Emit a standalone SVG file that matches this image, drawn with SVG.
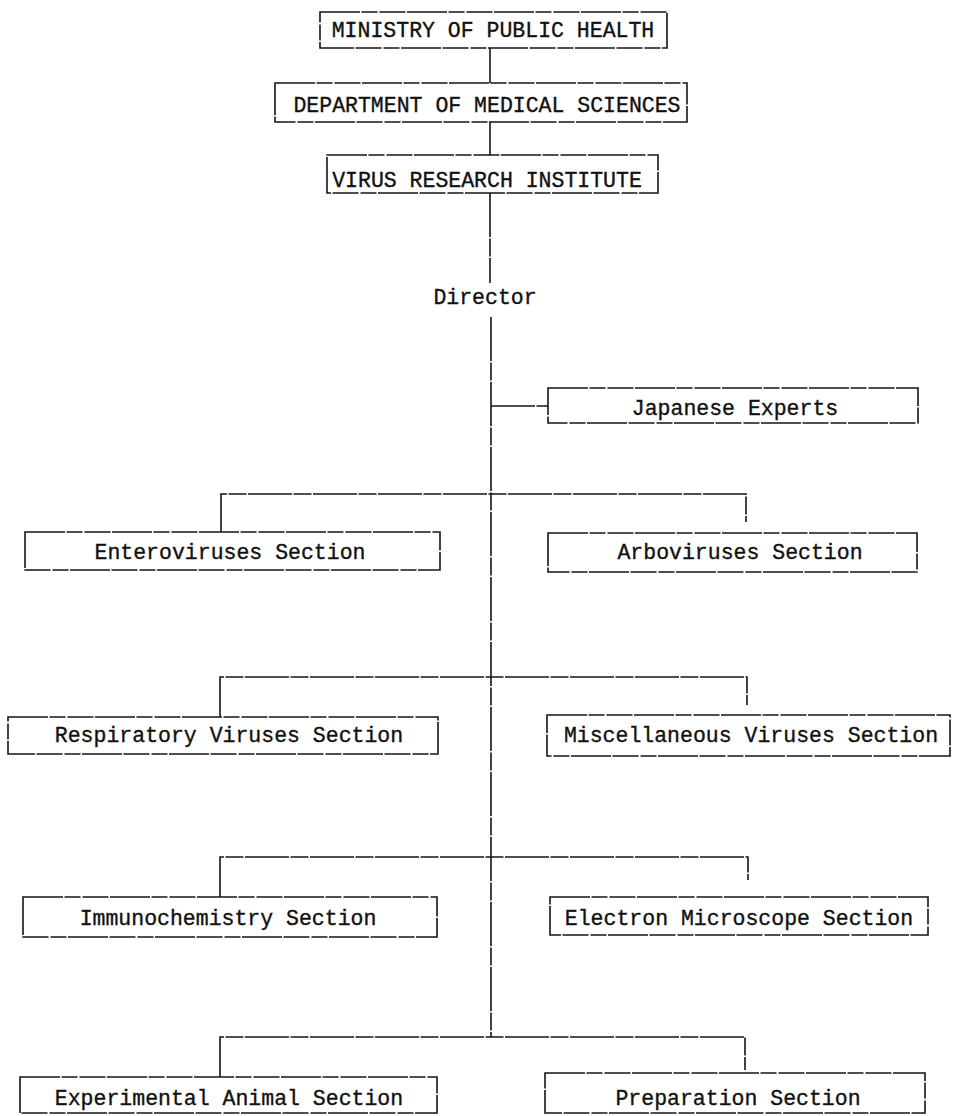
<svg xmlns="http://www.w3.org/2000/svg" width="958" height="1116" viewBox="0 0 958 1116">
<style>
.box{fill:none;stroke:#151515;stroke-width:1.6;stroke-dasharray:40 1.5 16 2 26 1.5}
.ln{fill:none;stroke:#151515;stroke-width:1.6;stroke-dasharray:44 1.5 18 1.5}
text{font-family:"Liberation Mono","Courier New",monospace;font-size:21.5px;fill:#111;stroke:#111;stroke-width:0.35;text-anchor:middle}
</style>
<rect width="958" height="1116" fill="#fff"/>
<g id="connectors">
<path class="ln" d="M490,48 V83"/>
<path class="ln" d="M490,122 V155"/>
<path class="ln" d="M490,193 V283"/>
<path class="ln" d="M491,317 V1037"/>
<path class="ln" d="M491,406 H548"/>
<path class="ln" d="M221,532 V494 H746 V522"/>
<path class="ln" d="M220,717 V677 H747 V705"/>
<path class="ln" d="M220,897 V857 H748 V880"/>
<path class="ln" d="M220,1077 V1037 H745 V1070"/>
</g>
<g id="ministry"><rect class="box" x="320" y="12" width="347" height="36"/><text x="493" y="37">MINISTRY OF PUBLIC HEALTH</text></g>
<g id="department"><rect class="box" x="275" y="83" width="412" height="39"/><text x="487" y="112">DEPARTMENT OF MEDICAL SCIENCES</text></g>
<g id="institute"><rect class="box" x="327" y="155" width="331" height="38"/><text x="487" y="187">VIRUS RESEARCH INSTITUTE</text></g>
<g id="director"><text x="485" y="304">Director</text></g>
<g id="japanese"><rect class="box" x="548" y="388" width="370" height="35"/><text x="735" y="415">Japanese Experts</text></g>
<g id="entero"><rect class="box" x="25" y="532" width="415" height="38"/><text x="230" y="559">Enteroviruses Section</text></g>
<g id="arbo"><rect class="box" x="548" y="533" width="369" height="39"/><text x="740" y="559">Arboviruses Section</text></g>
<g id="respiratory"><rect class="box" x="8" y="717" width="430" height="37"/><text x="229" y="742">Respiratory Viruses Section</text></g>
<g id="misc"><rect class="box" x="547" y="715" width="403" height="41"/><text x="751" y="742">Miscellaneous Viruses Section</text></g>
<g id="immuno"><rect class="box" x="23" y="897" width="414" height="40"/><text x="228" y="925">Immunochemistry Section</text></g>
<g id="electron"><rect class="box" x="550" y="897" width="378" height="38"/><text x="739" y="925">Electron Microscope Section</text></g>
<g id="animal"><rect class="box" x="20" y="1077" width="417" height="36"/><text x="229" y="1105">Experimental Animal Section</text></g>
<g id="preparation"><rect class="box" x="545" y="1073" width="380" height="40"/><text x="738" y="1105">Preparation Section</text></g>
</svg>
